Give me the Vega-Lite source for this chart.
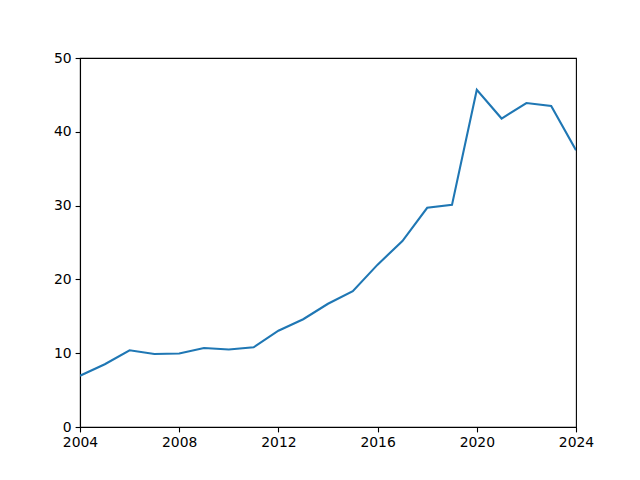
{
  "$schema": "https://vega.github.io/schema/vega-lite/v6.json",
  "width": 496,
  "height": 369,
  "autosize": "none",
  "padding": {"left": 80, "top": 58, "right": 64, "bottom": 53},
  "background": "white",
  "config": {
    "view": {"stroke": "black", "strokeWidth": 1.1},
    "axis": {
      "grid": false,
      "domainColor": "black",
      "domainWidth": 1.1,
      "tickColor": "black",
      "tickWidth": 1.1,
      "tickSize": 4.9,
      "labelFont": "DejaVu Sans",
      "labelFontSize": 13.9,
      "labelColor": "black",
      "labelPadding": 4,
      "labelFlush": false,
      "title": null
    }
  },
  "data": {
    "values": [
      {"year": 2004, "value": 6.95},
      {"year": 2005, "value": 8.5},
      {"year": 2006, "value": 10.4},
      {"year": 2007, "value": 9.9},
      {"year": 2008, "value": 9.95},
      {"year": 2009, "value": 10.7},
      {"year": 2010, "value": 10.5},
      {"year": 2011, "value": 10.8},
      {"year": 2012, "value": 13.05},
      {"year": 2013, "value": 14.6},
      {"year": 2014, "value": 16.7},
      {"year": 2015, "value": 18.4},
      {"year": 2016, "value": 22.0},
      {"year": 2017, "value": 25.2},
      {"year": 2018, "value": 29.7},
      {"year": 2019, "value": 30.1},
      {"year": 2020, "value": 45.7},
      {"year": 2021, "value": 41.8},
      {"year": 2022, "value": 43.9},
      {"year": 2023, "value": 43.5},
      {"year": 2024, "value": 37.5}
    ]
  },
  "mark": {"type": "line", "color": "#1f77b4", "strokeWidth": 2.1, "clip": true},
  "encoding": {
    "x": {
      "field": "year",
      "type": "quantitative",
      "scale": {"domain": [2004, 2024], "nice": false, "zero": false},
      "axis": {"values": [2004, 2008, 2012, 2016, 2020, 2024], "format": "d"}
    },
    "y": {
      "field": "value",
      "type": "quantitative",
      "scale": {"domain": [0, 50], "nice": false},
      "axis": {"values": [0, 10, 20, 30, 40, 50]}
    }
  }
}
